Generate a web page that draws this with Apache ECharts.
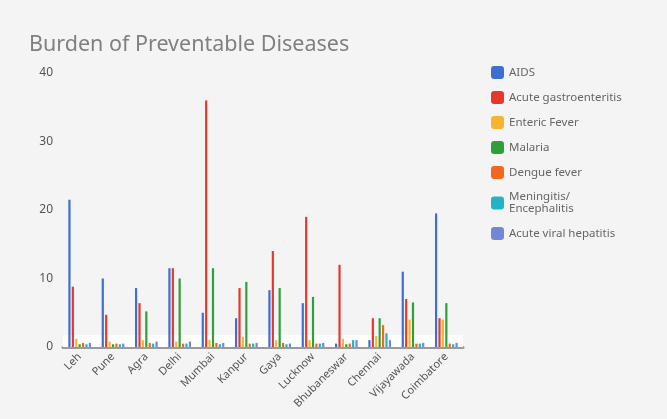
<!DOCTYPE html>
<html>
<head>
<meta charset="utf-8">
<script src="https://cdn.jsdelivr.net/npm/echarts@6/dist/echarts.min.js"></script>
<style>
  html, body { margin: 0; padding: 0; background: #f4f4f4; }
  #chart { width: 667px; height: 419px; }
</style>
</head>
<body>
<div id="chart"></div>
<script>
// Reported cases per location for each disease
const categories = ['Leh', 'Pune', 'Agra', 'Delhi', 'Mumbai', 'Kanpur', 'Gaya', 'Lucknow', 'Bhubaneswar', 'Chennai', 'Vijayawada', 'Coimbatore'];

const aids            = [21.5, 10, 8.6, 11.5, 5, 4.2, 8.3, 6.4, 0.5, 1, 11, 19.5];
const gastroenteritis = [8.8, 4.7, 6.4, 11.5, 36, 8.6, 14, 19, 12, 4.2, 7, 4.2];
const entericFever    = [1.2, 0.8, 1, 0.8, 1, 1.5, 1, 1, 1.2, 1.6, 4, 4];
const malaria         = [0.4, 0.4, 5.2, 10, 11.5, 9.5, 8.6, 7.3, 0.4, 4.2, 6.5, 6.4];
const dengue          = [0.6, 0.5, 0.6, 0.5, 0.6, 0.5, 0.6, 0.5, 0.5, 3.2, 0.5, 0.5];
const meningitis      = [0.4, 0.4, 0.5, 0.5, 0.4, 0.5, 0.4, 0.5, 1, 2, 0.5, 0.4];
const hepatitis       = [0.6, 0.5, 0.8, 0.8, 0.6, 0.6, 0.5, 0.6, 1, 1, 0.6, 0.6];

const seriesNames = ['AIDS', 'Acute gastroenteritis', 'Enteric Fever', 'Malaria', 'Dengue fever', 'Meningitis/ Encephalitis', 'Acute viral hepatitis'];
const seriesData = [aids, gastroenteritis, entericFever, malaria, dengue, meningitis, hepatitis];
const colors = ['#3c6fd1', '#e8372a', '#f5b52e', '#2ea03a', '#f2671f', '#22b3c6', '#7585d8'];

const yTicks = { min: 0, max: 40, interval: 10 };

const chart = echarts.init(document.getElementById('chart'));

const series = seriesNames.map((name, i) => {
  const s = {
    name: name,
    type: 'bar',
    data: seriesData[i],
    barWidth: 2.2,
    barGap: '55%',
    itemStyle: { color: colors[i] }
  };
  if (i === 0) {
    // pale band along the baseline
    s.markArea = {
      silent: true,
      itemStyle: { color: '#ffffff', opacity: 1 },
      data: [[{ yAxis: 0 }, { yAxis: 1.7 }]]
    };
  }
  return s;
});

chart.setOption({
  backgroundColor: '#f4f4f4',
  color: colors,
  animation: false,
  title: {
    text: 'Burden of Preventable Diseases',
    left: 24,
    top: 29,
    textStyle: { fontSize: 21.5, fontWeight: 'normal', color: '#808080', fontFamily: 'Noto Sans' }
  },
  legend: {
    orient: 'vertical',
    left: 486,
    top: 61,
    icon: 'roundRect',
    itemWidth: 13,
    itemHeight: 13,
    itemGap: 12,
    textStyle: { fontSize: 11.5, color: '#666', fontFamily: 'Noto Sans', width: 128, overflow: 'break' }
  },
  grid: { left: 63, right: 204, top: 73, bottom: 72 },
  xAxis: {
    type: 'category',
    data: categories,
    axisLine: { lineStyle: { color: '#9a9a9a', width: 3 } },
    axisTick: { show: false },
    axisLabel: { rotate: 45, interval: 0, fontSize: 11, color: '#555', margin: 8, fontFamily: 'Noto Sans' }
  },
  yAxis: {
    type: 'value',
    min: yTicks.min,
    max: yTicks.max,
    interval: yTicks.interval,
    splitLine: { show: false },
    axisLine: { show: false },
    axisTick: { show: false },
    axisLabel: { fontSize: 12, color: '#555', margin: 10, fontFamily: 'Noto Sans' }
  },
  series: series
});
</script>
</body>
</html>
